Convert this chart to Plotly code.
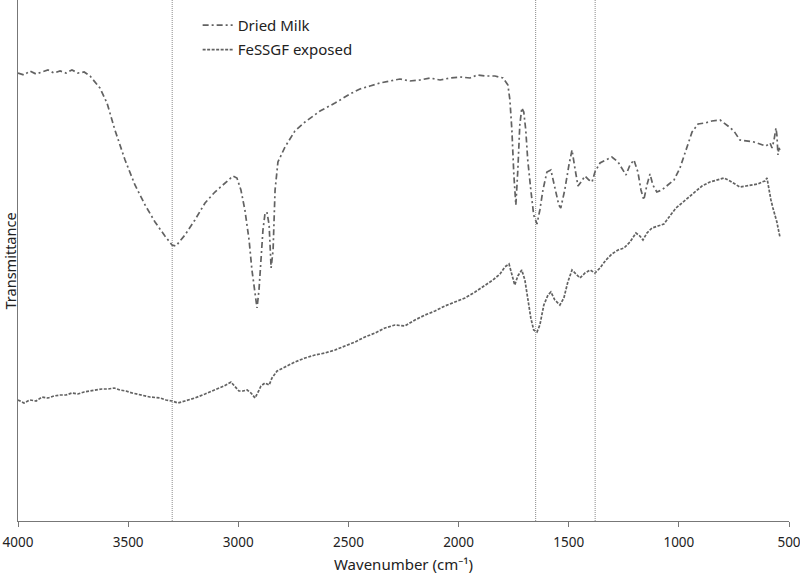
import plotly.graph_objects as go

# Dried Milk spectrum (wavenumber cm-1, transmittance in arbitrary units)
milk_wn = [4000, 3973, 3946, 3918, 3891, 3864, 3837, 3809, 3782, 3755, 3728, 3700, 3673, 3650,
           3628, 3596, 3560, 3514, 3469, 3423, 3378, 3333, 3301, 3283, 3242, 3197, 3151, 3106,
           3060, 3024, 3006, 2988, 2970, 2951, 2938, 2924, 2915, 2906, 2897, 2888, 2879, 2870,
           2860, 2851, 2842, 2833, 2820, 2788, 2743, 2697, 2629, 2561, 2493, 2448, 2402, 2357,
           2311, 2266, 2221, 2175, 2130, 2084, 2039, 1993, 1948, 1916, 1880, 1835, 1798, 1776,
           1767, 1758, 1749, 1740, 1731, 1722, 1713, 1704, 1695, 1686, 1672, 1659, 1644, 1631,
           1617, 1599, 1581, 1563, 1545, 1536, 1518, 1499, 1485, 1472, 1458, 1444, 1426, 1408,
           1394, 1381, 1358, 1331, 1304, 1276, 1258, 1240, 1222, 1204, 1186, 1172, 1159, 1145,
           1131, 1118, 1100, 1077, 1050, 1022, 995, 968, 940, 913, 881, 850, 813, 777, 750, 723,
           691, 659, 632, 605, 586, 577, 568, 559, 555, 550, 546, 541]
milk_t = [448, 446, 450, 447, 449, 451, 448, 450, 448, 451, 448, 449, 445, 439,
          433, 418, 391, 361, 336, 316, 299, 285, 276, 275, 286, 301, 318, 329,
          338, 345, 343, 331, 311, 281, 251, 226, 213, 231, 261, 291, 307, 309,
          296, 253, 271, 331, 359, 374, 390, 399, 410, 418, 427, 432, 435, 438,
          440, 442, 440, 441, 443, 441, 443, 444, 443, 446, 445, 445, 443, 436,
          421, 391, 346, 316, 351, 396, 413, 409, 391, 361, 331, 306, 297, 311,
          331, 349, 351, 333, 316, 313, 331, 356, 371, 353, 335, 339, 345, 341,
          339, 349, 358, 361, 364, 359, 353, 346, 356, 361, 349, 331, 321, 336,
          347, 336, 329, 331, 336, 341, 353, 371, 389, 397, 398, 400, 401, 395, 390, 381,
          380, 379, 377, 375, 378, 373, 381, 393, 386, 366, 373, 371]

# FeSSGF exposed spectrum
fe_wn = [4000, 3973, 3946, 3918, 3891, 3864, 3837, 3809, 3782, 3755, 3728, 3700, 3673, 3646,
         3619, 3591, 3564, 3537, 3510, 3482, 3446, 3401, 3355, 3328, 3301, 3274, 3242, 3197,
         3151, 3106, 3065, 3033, 3015, 2997, 2979, 2960, 2942, 2924, 2910, 2897, 2879, 2860,
         2847, 2824, 2788, 2743, 2697, 2652, 2606, 2561, 2516, 2470, 2425, 2379, 2334, 2289,
         2244, 2198, 2152, 2107, 2062, 2016, 1971, 1925, 1880, 1844, 1812, 1790, 1771, 1758,
         1745, 1731, 1713, 1699, 1686, 1672, 1659, 1644, 1631, 1613, 1594, 1581, 1563, 1540,
         1522, 1504, 1485, 1467, 1449, 1426, 1403, 1381, 1358, 1331, 1304, 1276, 1249, 1222,
         1195, 1177, 1163, 1145, 1122, 1095, 1068, 1041, 1013, 986, 959, 927, 895, 859, 822,
         795, 768, 741, 723, 695, 668, 641, 623, 609, 600, 591, 582, 573, 564, 555, 546, 541]
fe_t = [121, 118, 121, 120, 124, 123, 125, 126, 126, 128, 127, 129, 130, 131,
        132, 132, 133, 131, 130, 128, 126, 124, 123, 121, 120, 118, 120, 123,
        127, 131, 135, 139, 135, 130, 130, 131, 128, 123, 129, 135, 138, 136,
        143, 150, 154, 159, 163, 166, 168, 171, 175, 179, 184, 188, 193, 196,
        195, 201, 206, 210, 215, 219, 223, 229, 236, 241, 247, 254, 257, 246,
        236, 245, 251, 241, 221, 203, 191, 189, 196, 216, 226, 229, 221, 216,
        223, 239, 251, 247, 243, 248, 251, 248, 253, 261, 267, 271, 273, 279,
        288, 285, 281, 288, 293, 295, 297, 305, 313, 318, 323, 329, 335, 339, 341,
        343, 340, 336, 334, 335, 336, 337, 339, 340, 343, 331, 321, 313, 306, 299, 289, 284]

marker_lines = [3300, 1650, 1380]
x_ticks = [4000, 3500, 3000, 2500, 2000, 1500, 1000, 500]

line_col = "#626262"
fig = go.Figure()
fig.add_trace(go.Scatter(x=milk_wn, y=milk_t, mode="lines", name="Dried Milk",
                         legendgroup="a",
                         line=dict(color=line_col, width=1.7, dash="6px,3px,2px,3px")))
fig.add_trace(go.Scatter(x=fe_wn, y=fe_t, mode="lines", name="FeSSGF exposed",
                         legendgroup="b",
                         line=dict(color=line_col, width=1.7, dash="3px,1.5px")))

for v in marker_lines:
    fig.add_shape(type="line", xref="x", yref="paper", x0=v, x1=v, y0=0, y1=1,
                  line=dict(color="#8a8a8a", width=1, dash="1px,1px"), layer="below")

fig.update_layout(
    width=800, height=574,
    margin=dict(l=18, r=11, t=0, b=53),
    plot_bgcolor="white", paper_bgcolor="white",
    font=dict(family="Noto Sans, Open Sans, sans-serif", size=13, color="#222"),
    showlegend=True,
    legend=dict(x=0.233, y=0.983, xanchor="left", yanchor="top",
                bgcolor="rgba(0,0,0,0)", font=dict(size=15, color="#222"),
                tracegroupgap=2, itemwidth=30),
    xaxis=dict(range=[4000, 500], tickvals=x_ticks, ticktext=[str(t) for t in x_ticks],
               showgrid=False, zeroline=False, showline=True, linecolor="#777", linewidth=1,
               ticks="outside", ticklen=5, tickcolor="#777", ticklabeloverflow="allow",
               ticklabelstandoff=4,
               automargin=False, tickfont=dict(size=13.5),
               title=dict(text="Wavenumber (cm⁻¹)", font=dict(size=15), standoff=10)),
    yaxis=dict(range=[0, 521], showgrid=False, zeroline=False, showline=True,
               linecolor="#777", linewidth=1, showticklabels=False, ticks="",
               automargin=False),
    annotations=[dict(text="Transmittance", xref="paper", yref="paper",
                      x=-0.0104, y=0.5, xanchor="center", yanchor="middle",
                      textangle=-90, showarrow=False, borderpad=0,
                      font=dict(size=14.5, color="#222"))],
)

fig.write_html("out.html", config={"displayModeBar": False},
               post_script="document.body.style.margin='0';document.body.style.overflow='hidden';")
